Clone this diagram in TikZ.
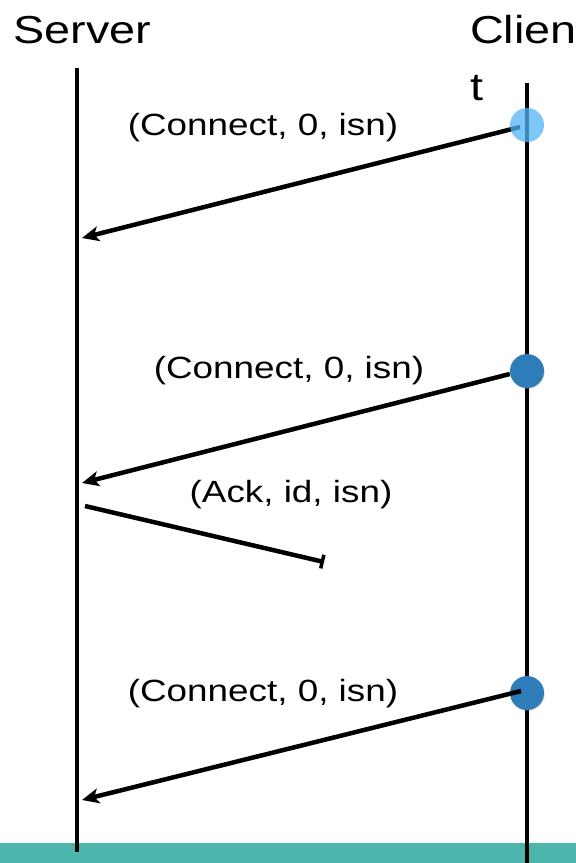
\documentclass[tikz,border=0pt]{standalone}
\usepackage{fontspec}
\setmainfont{Liberation Sans}[FakeStretch=1.2]
\usetikzlibrary{arrows.meta,shadows}
\definecolor{band}{HTML}{4DB6AC}
\definecolor{dotlight}{HTML}{52B4F5}
\definecolor{dotdark}{HTML}{2E7DB8}
\tikzset{
  lifeline/.style={line width=4.5pt},
  msg/.style={line width=4.5pt,-{Stealth[length=17pt,width=15pt,inset=4.5pt]}},
  lost/.style={line width=4.5pt,-{Bar[width=14pt,line width=3.5pt]}},
  title/.style={inner sep=0pt,font=\fontsize{39}{57}\selectfont},
  lbl/.style={inner sep=0pt,anchor=base,font=\fontsize{30.7}{37}\selectfont},
  sendlight/.style={circle,minimum size=34pt,inner sep=0pt,fill=dotlight,fill opacity=0.75},
  senddark/.style={circle,minimum size=34pt,inner sep=0pt,fill=dotdark,
    drop shadow={shadow xshift=0.6pt,shadow yshift=-0.8pt,opacity=0.35}},
}
\begin{document}
\begin{tikzpicture}[x=1pt,y=-1pt]
\useasboundingbox (0,0) rectangle (576,863);
% footer band
\fill[band] (0,843) rectangle (576,863);

% lifelines
\coordinate (s top) at (77,68);
\coordinate (s bot) at (77,852);
\coordinate (c top) at (527,83);
\coordinate (c bot) at (527,863);
\draw[lifeline] (s top) -- (s bot);
\draw[lifeline] (c top) -- (c bot);

% titles
\node[title,anchor=base west] (server) at (13,43) {Server};
\node[title,anchor=base west,align=left] (client) at (470,100) {Clien\\t};

% send events on the client
\node[senddark] (e2) at (527,371) {};
\node[senddark] (e3) at (527,693) {};

% receive points on the server
\coordinate (r1) at (82,238);
\coordinate (r2) at (82,483);
\coordinate (r3) at (82,800);
\coordinate (ack start) at (85,506);
\coordinate (ack end) at (324,562);
\coordinate (s1) at (520,127);
\coordinate (s3) at (521,691);

% messages
\draw[msg] (s1) -- (r1);
\draw[msg] (e2.west) ++(0,3) -- (r2);
\draw[msg] (s3) -- (r3);
\draw[lost] (ack start) -- (ack end);

% first send, translucent over its lifeline
\node[sendlight] (e1) at (527,125) {};

% labels
\node[lbl] (l1) at (263,135) {(Connect, 0, isn)};
\node[lbl] (l2) at (289,378) {(Connect, 0, isn)};
\node[lbl] (l3) at (291,502) {(Ack, id, isn)};
\node[lbl] (l4) at (263,701) {(Connect, 0, isn)};
\end{tikzpicture}
\end{document}
